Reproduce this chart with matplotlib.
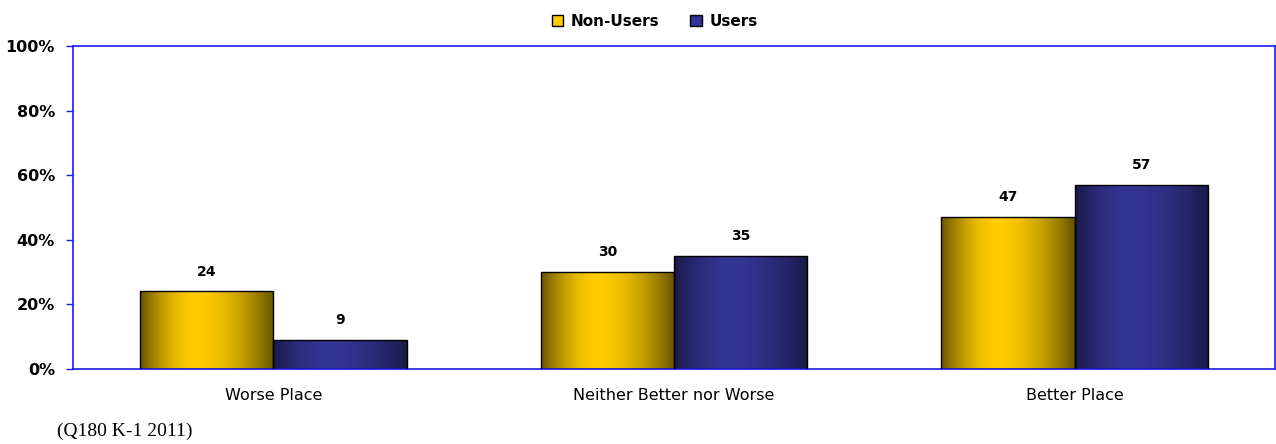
import matplotlib
matplotlib.use("Agg")
from matplotlib import pyplot as plt
from matplotlib.patches import Rectangle
import numpy as np

categories = ["Worse Place", "Neither Better nor Worse", "Better Place"]
series_names = ["Non-Users", "Users"]
non_users = [24, 30, 47]
users = [9, 35, 57]
y_ticks = [0, 20, 40, 60, 80, 100]
footnote = "(Q180 K-1 2011)"

BLUE = "#1a1aff"
# (edge colour, centre colour) for the horizontal shading
SHADES = [("#665400", "#ffcc00"), ("#1a1a48", "#343494")]
SOLID = ["#ffcc00", "#333399"]


def shaded_bar(ax, x, w, h, cols):
    c0 = np.array(matplotlib.colors.to_rgb(cols[0]))
    c1 = np.array(matplotlib.colors.to_rgb(cols[1]))
    u = np.linspace(0, 1, 200)
    peak = 0.42
    # distance from the highlight, scaled so both edges reach 1
    d = np.where(u < peak, (peak - u) / peak, (u - peak) / (1 - peak))
    k = 1 - d ** 1.8
    grad = c0[None, :] + (c1 - c0)[None, :] * k[:, None]
    img = ax.imshow(grad[None, :, :], extent=(x, x + w, 0, h), aspect="auto",
                    zorder=2, interpolation="bilinear")
    rect = Rectangle((x, 0), w, h, facecolor="none", edgecolor="black",
                     linewidth=1.0, zorder=3)
    ax.add_patch(rect)
    img.set_clip_path(rect)


fig = plt.figure(figsize=(12.76, 4.44), dpi=100)
ax = fig.add_axes([73 / 1276, 1 - 369 / 444, 1202 / 1276, 323 / 444])

w = 0.333
for j, vals in enumerate([non_users, users]):
    for i, v in enumerate(vals):
        x = i - w + j * w
        shaded_bar(ax, x, w, v, SHADES[j])
        ax.text(x + w / 2, v + 4, str(v), ha="center", va="bottom",
                fontsize=10, fontweight="bold", family="DejaVu Sans")

ax.set_xlim(-0.5, 2.5)
ax.set_ylim(0, 100)
ax.set_yticks(y_ticks)
ax.set_yticklabels([f"{t}%" for t in y_ticks], fontsize=11.5,
                   fontweight="bold", family="DejaVu Sans")
ax.set_xticks(range(len(categories)))
ax.set_xticklabels(categories, fontsize=11.5, family="DejaVu Sans")
ax.tick_params(axis="x", length=0, pad=14)
ax.tick_params(axis="y", length=5, color=BLUE, width=1, pad=8)
for s in ax.spines.values():
    s.set_color(BLUE)
    s.set_linewidth(1.2)

handles = [Rectangle((0, 0), 1, 1, facecolor=SOLID[k], edgecolor="black",
                     linewidth=1.0) for k in range(2)]
fig.legend(handles, series_names, loc="upper center",
           bbox_to_anchor=(0.513, 1.0), ncol=2, frameon=False,
           handlelength=0.75, handleheight=0.75, handletextpad=0.5,
           columnspacing=2.0, prop={"family": "DejaVu Sans",
                                    "weight": "bold", "size": 11})

fig.text(57 / 1276, 1 - 431 / 444, footnote, ha="left", va="center",
         fontsize=14, family="Liberation Serif")

fig.savefig("out.png", dpi=100)
